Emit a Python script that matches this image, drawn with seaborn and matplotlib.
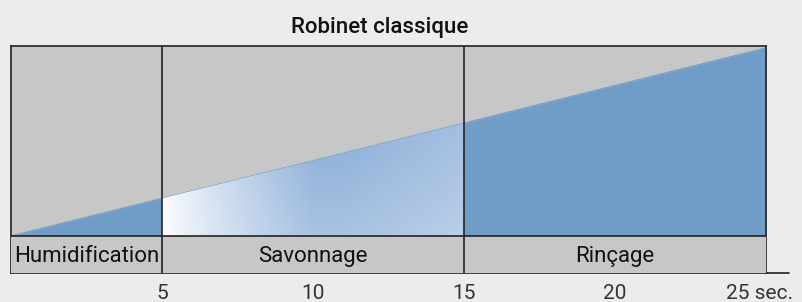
import numpy as np
import seaborn as sns
import matplotlib.pyplot as plt
from matplotlib.patches import Polygon, Rectangle
from matplotlib.transforms import ScaledTranslation

# water flow of a classic tap: rises linearly over the 25 seconds
time = [0, 25]
flow = [0.0, 0.99]

phase_bounds = [0, 5, 15, 25]
phase_names = ['Humidification', 'Savonnage', 'Rinçage']
tick_pos = [5, 10, 15, 20, 25]
tick_labels = ['5', '10', '15', '20', '25 sec.']

bg = '#ececec'
gray = '#c6c7c6'
blue = '#6f9dc8'
soap_blue = np.array([0x8c, 0xae, 0xd8]) / 255

sns.set_theme(style='white', rc={'figure.facecolor': bg, 'axes.facecolor': gray})
plt.rcParams['font.family'] = ['Roboto', 'DejaVu Sans']

fig = plt.figure(figsize=(8.03, 3.02), dpi=100)
ax = fig.add_axes([11 / 803, 29 / 302, 755 / 803, 227 / 302])
label_h = 0.195
ax.set_xlim(0, 25)
ax.set_ylim(-label_h, 1.0)

x_line = np.array(time, dtype=float)
y_line = np.array(flow)

def flow_at(x):
    return np.interp(x, x_line, y_line)

sns.lineplot(x=time, y=flow, color=blue, lw=0.8, ax=ax)

# humidification and rinsing: plain water
for a, b in [(phase_bounds[0], phase_bounds[1]), (phase_bounds[2], phase_bounds[3])]:
    xs = np.array([a, b])
    ax.fill_between(xs, 0, flow_at(xs), color=blue, lw=0)

# soaping: gradient from white to blue
a, b = phase_bounds[1], phase_bounds[2]
nx, ny = 200, 60
gx = np.linspace(0, 1, nx)
gy = np.linspace(0, 1, ny)
tx = np.clip(gx / 0.5, 0, 1) ** 0.8
tx = tx - 0.2 * np.clip((gx - 0.6) / 0.4, 0, 1)
img = np.zeros((ny, nx, 3))
for j, v in enumerate(gy):
    t = tx * (0.75 + 0.25 * v)
    img[j] = (1 - t)[:, None] * np.ones(3) + t[:, None] * soap_blue
poly = Polygon([(a, 0), (b, 0), (b, flow_at(b)), (a, flow_at(a))], closed=True,
               transform=ax.transData, facecolor='none', edgecolor='none')
ax.add_patch(poly)
im = ax.imshow(img, extent=[a, b, 0, flow_at(b)], origin='lower', aspect='auto',
               interpolation='bilinear', zorder=2)
im.set_clip_path(poly)

# phase label band
ax.add_patch(Rectangle((0, -label_h), 25, label_h, facecolor=gray, edgecolor='none', zorder=3))
ax.axhline(0, color='#222222', lw=1.2, zorder=4)
for xb in phase_bounds[1:-1]:
    ax.axvline(xb, color='#222222', lw=1.2, zorder=4)
for i, name in enumerate(phase_names):
    ax.text((phase_bounds[i] + phase_bounds[i + 1]) / 2, -label_h / 2 - 0.01, name,
            ha='center', va='center', fontsize=16, color='#111111',
            family=['Roboto', 'DejaVu Sans'], zorder=5)

for s in ax.spines.values():
    s.set_color('#222222')
    s.set_linewidth(1.2)

ax.set_yticks([])
ax.set_xticks(tick_pos)
ax.set_xticklabels(tick_labels, fontsize=15, color='#333333',
                   family=['Roboto', 'DejaVu Sans'])
ax.tick_params(axis='x', length=0, pad=8)
last = ax.get_xticklabels()[-1]
last.set_transform(last.get_transform() + ScaledTranslation(-6 / 100, 0, fig.dpi_scale_trans))

# bottom axis line extending past the box
ax.plot([25, 25.75], [-label_h, -label_h], color='#222222', lw=1.2, clip_on=False)

fig.text(380 / 803, 1 - 28 / 302, 'Robinet classique', ha='center', va='center',
         fontsize=16, fontweight='medium', color='#111111')

fig.savefig('out.png', dpi=100, facecolor=bg)
